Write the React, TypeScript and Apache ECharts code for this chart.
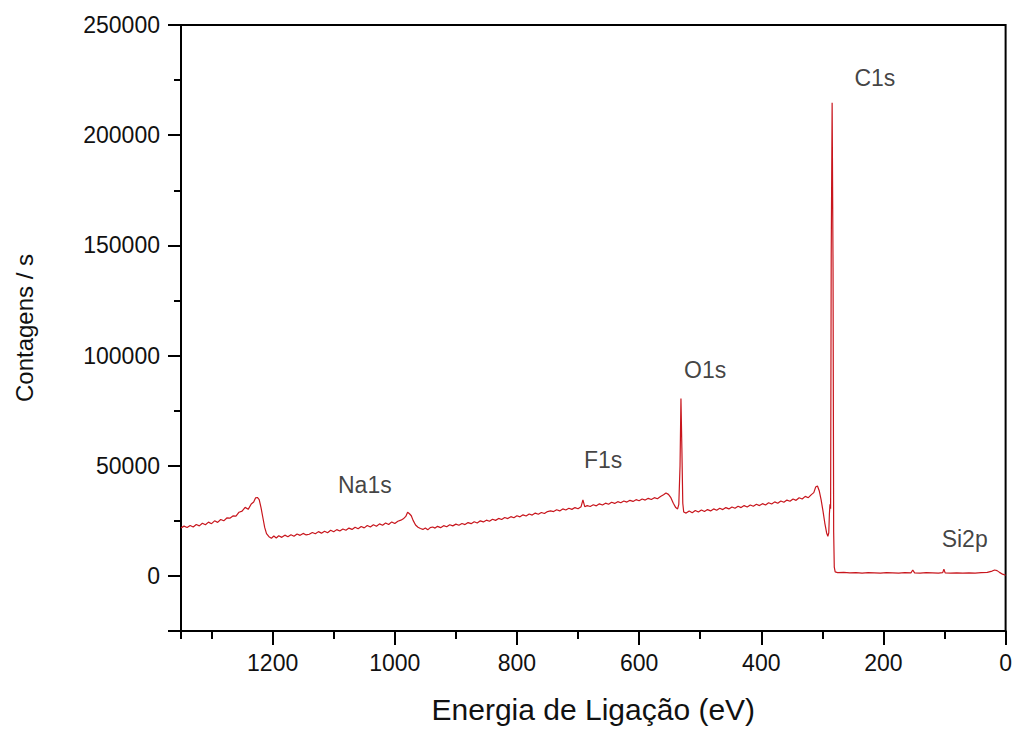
import React, { useEffect, useRef } from "react";
import * as echarts from "echarts";

// Binding energy (eV) and counts per second
const energy: number[] = [
  1350, 1345, 1340, 1335, 1330, 1325, 1320, 1315, 1310, 1305, 1300, 1295, 1290, 1285, 1280, 1275, 1270, 1265, 1260, 1255,
  1250, 1245, 1240, 1235, 1231, 1228, 1225, 1222, 1219, 1216, 1213, 1210, 1206, 1202, 1198, 1194, 1190, 1185, 1180, 1175,
  1170, 1165, 1160, 1155, 1150, 1145, 1140, 1135, 1130, 1125, 1120, 1115, 1110, 1105, 1100, 1095, 1090, 1085, 1080, 1075,
  1070, 1065, 1060, 1055, 1050, 1045, 1040, 1035, 1030, 1025, 1020, 1015, 1010, 1005, 1000, 995, 990, 986, 982, 979,
  976, 973, 970, 966, 962, 958, 954, 950, 946, 942, 938, 934, 930, 925, 920, 915, 910, 905, 900, 895,
  890, 885, 880, 875, 870, 865, 860, 855, 850, 845, 840, 835, 830, 825, 820, 815, 810, 805, 800, 795,
  790, 785, 780, 775, 770, 765, 760, 755, 750, 745, 740, 735, 730, 725, 720, 715, 710, 705, 700, 695,
  692, 689, 685, 680, 675, 670, 665, 660, 655, 650, 645, 640, 635, 630, 625, 620, 615, 610, 605, 600,
  595, 590, 585, 580, 575, 570, 565, 560, 556, 552, 548, 544, 540, 537, 535, 533, 531.5, 530, 528.5, 527,
  523, 518, 513, 508, 503, 498, 493, 488, 483, 478, 473, 468, 463, 458, 453, 448, 443, 438, 433, 428,
  423, 418, 413, 408, 403, 398, 393, 388, 383, 378, 373, 368, 363, 358, 353, 348, 343, 338, 333, 328,
  323, 318, 314, 311, 308, 305, 302, 299, 296, 293, 291, 289.5, 288.5, 287.5, 286.5, 285.5, 284, 282.5, 281.5, 280.5,
  279, 275, 265, 255, 245, 235, 225, 215, 205, 195, 185, 175, 165, 155, 152, 149, 140, 130, 120, 110,
  103, 101, 99, 90, 80, 70, 60, 50, 40, 30, 22, 18, 14, 10, 5, 0,
];
const counts: number[] = [
  21800, 22600, 22000, 22900, 22200, 23300, 22700, 23900, 23200, 24400, 23700, 25000, 24300, 25600, 25000, 26300, 26200, 27200, 27100, 28900,
  29400, 31100, 30200, 32600, 33500, 35400, 35600, 34600, 31000, 26500, 22000, 19200, 17800, 17100, 18100, 17200, 18200, 17500, 18500, 17800,
  18700, 18000, 19000, 18400, 19300, 18600, 18900, 19700, 19100, 20100, 19400, 20300, 19600, 20700, 20000, 21000, 20400, 21300, 20700, 21700,
  21100, 22100, 21400, 22400, 21800, 22900, 22200, 23200, 22500, 23600, 23000, 24000, 23300, 24500, 23800, 24800, 25300, 25900, 27000, 28900,
  28200, 27300, 25200, 23100, 22100, 21500, 21100, 21700, 20900, 21900, 22200, 21700, 22500, 21900, 22800, 22300, 23200, 22700, 23500, 23000,
  23800, 23300, 24200, 23700, 24600, 24000, 25000, 24500, 25300, 24800, 25700, 25200, 26100, 25600, 26500, 26000, 26900, 26400, 27300, 26800,
  27700, 27200, 28100, 27600, 28500, 28000, 28800, 28300, 29200, 29500, 29200, 30000, 29500, 30400, 29900, 30700, 30200, 31000, 30500, 31400,
  34500, 31400, 31900, 31500, 32300, 31800, 32700, 32200, 33000, 32500, 33400, 32900, 33700, 33200, 34000, 33500, 34300, 33800, 34600, 34100,
  34900, 34400, 35200, 34700, 35500, 35000, 36000, 36800, 37600, 37000, 35500, 33000, 31000, 30400, 32500, 50000, 80500, 58000, 33000, 29000,
  28500, 29500, 28700, 29700, 29000, 29900, 29200, 30100, 29500, 30400, 29800, 30700, 30100, 31000, 30400, 31300, 30700, 31600, 31000, 31900,
  31300, 32200, 31600, 32500, 31900, 32800, 32200, 33200, 32600, 33600, 33000, 34000, 33400, 34400, 33900, 34900, 34300, 35500, 34900, 36100,
  35500, 36900, 37800, 40300, 40800, 38500, 34500, 29500, 24000, 19500, 18000, 19500, 28000, 32500, 30500, 145000, 214700, 140000, 20000, 4000,
  1800, 1500, 1600, 1400, 1500, 1300, 1500, 1400, 1300, 1500, 1400, 1300, 1500, 1400, 2700, 1400, 1300, 1500, 1400, 1300,
  1500, 3000, 1400, 1300, 1400, 1300, 1400, 1300, 1500, 1600, 2200, 2700, 2400, 1600, 800, 300,
];

// Peak annotations: label, energy (eV), counts where the text sits
const peakNames: string[] = ["C1s", "O1s", "F1s", "Na1s", "Si2p"];
const peakEnergy: number[] = [214, 492, 659, 1049, 67];
const peakCounts: number[] = [226000, 93500, 52700, 41400, 16700];

const xMin = 0;
const xMax = 1350;
const yMin = -25000;
const yMax = 250000;

export default function App() {
  const ref = useRef<HTMLDivElement>(null);

  useEffect(() => {
    if (!ref.current) return;
    const chart = echarts.init(ref.current, undefined, { renderer: "svg" });
    const font = "'Liberation Sans', Arial, sans-serif";
    const spectrum = energy.map((e, i) => [e, counts[i]]);
    const labels = peakNames.map((n, i) => [peakEnergy[i], peakCounts[i], n]);

    chart.setOption({
      animation: false,
      backgroundColor: "#ffffff",
      grid: {
        left: 181,
        right: 9,
        top: 25,
        bottom: 93,
        show: true,
        borderColor: "#000",
        borderWidth: 2,
        backgroundColor: "transparent",
      },
      xAxis: [
        {
          type: "value",
          min: xMin,
          max: xMax,
          interval: 200,
          inverse: true,
          position: "bottom",
          name: "Energia de Ligação (eV)",
          nameLocation: "middle",
          nameGap: 63,
          nameTextStyle: { fontFamily: font, fontSize: 30, color: "#111" },
          axisLine: { show: true, onZero: false, lineStyle: { color: "#000", width: 2 } },
          axisTick: { show: true, inside: false, length: 14, lineStyle: { color: "#000", width: 2 } },
          axisLabel: {
            margin: 20,
            fontFamily: font,
            fontSize: 23,
            color: "#111",
            showMaxLabel: false,
            formatter: (v: number) => (v % 200 === 0 ? String(v) : ""),
          },
          splitLine: { show: false },
        },
        {
          type: "value",
          min: xMin,
          max: xMax,
          interval: 100,
          inverse: true,
          position: "bottom",
          axisLine: { show: false, onZero: false },
          axisTick: { show: true, inside: false, length: 8, lineStyle: { color: "#000", width: 2 } },
          axisLabel: { show: false },
          splitLine: { show: false },
        },
      ],
      yAxis: [
        {
          type: "value",
          min: yMin,
          max: yMax,
          splitNumber: 5,
          position: "left",
          name: "Contagens / s",
          nameLocation: "middle",
          nameGap: 145,
          nameTextStyle: { fontFamily: font, fontSize: 24, color: "#111" },
          axisLine: { show: true, onZero: false, lineStyle: { color: "#000", width: 2 } },
          axisTick: { show: true, inside: false, length: 13, lineStyle: { color: "#000", width: 2 } },
          axisLabel: {
            margin: 21,
            fontFamily: font,
            fontSize: 23,
            color: "#111",
            formatter: (v: number) => (v < 0 ? "" : String(Math.abs(v))),
          },
          splitLine: { show: false },
        },
        {
          type: "value",
          min: yMin,
          max: yMax,
          interval: 25000,
          position: "left",
          axisLine: { show: false, onZero: false },
          axisTick: { show: true, inside: false, length: 7, lineStyle: { color: "#000", width: 2 } },
          axisLabel: { show: false },
          splitLine: { show: false },
        },
      ],
      series: [
        {
          type: "line",
          xAxisIndex: 0,
          yAxisIndex: 0,
          data: spectrum,
          showSymbol: false,
          symbol: "none",
          lineStyle: { color: "#c8161d", width: 1.2 },
          silent: true,
          z: 3,
        },
        {
          type: "scatter",
          xAxisIndex: 0,
          yAxisIndex: 0,
          data: labels,
          symbolSize: 1,
          itemStyle: { color: "rgba(0,0,0,0)" },
          label: {
            show: true,
            position: "inside",
            formatter: (p: any) => p.data[2],
            fontFamily: font,
            fontSize: 23,
            color: "#111",
          },
          silent: true,
          z: 4,
        },
      ],
    });

    return () => chart.dispose();
  }, []);

  return (
    <div
      ref={ref}
      style={{ position: "fixed", left: 0, top: 0, width: 1015, height: 729, background: "#fff" }}
    />
  );
}
